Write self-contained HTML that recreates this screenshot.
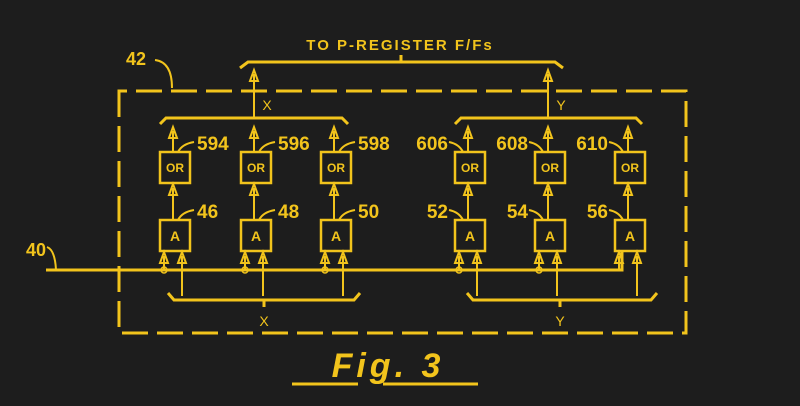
<!DOCTYPE html>
<html><head><meta charset="utf-8"><style>
html,body{margin:0;padding:0;background:#1d1d1d;}
svg{display:block}
text{font-family:"Liberation Sans",sans-serif;fill:#f2c41c;}
</style></head><body>
<svg width="800" height="406" viewBox="0 0 800 406" xmlns="http://www.w3.org/2000/svg">
<g stroke="#f2c41c" stroke-width="3" fill="none">
<path d="M119,91 L119,333 L686,333 L686,91 Z" stroke-dasharray="26,9"/>
<path d="M240,68 L248,62 L555,62 L563,68"/>
<line x1="401" y1="62" x2="401" y2="55"/>
<path d="M160,124 L166,118 L342,118 L348,124"/>
<path d="M455,124 L461,118 L636,118 L642,124"/>
<path d="M168,293 L174,300 L354,300 L360,293"/>
<path d="M467,293 L473,300 L651,300 L657,293"/>
<line x1="264" y1="300" x2="264" y2="307"/>
<line x1="560" y1="300" x2="560" y2="307"/>
<path d="M46,270 L622,270 L622,251"/>
<path d="M47,247 Q55,250 56,270" stroke-width="2"/>
</g>
<g id="cols" stroke="#f2c41c" fill="none"></g>
<text x="400" y="50" font-size="15" text-anchor="middle" letter-spacing="2" font-weight="bold">TO P-REGISTER F/Fs</text>
<text x="267" y="110" font-size="14" text-anchor="middle">X</text>
<text x="561" y="110" font-size="14" text-anchor="middle">Y</text>
<text x="264" y="326" font-size="14" text-anchor="middle">X</text>
<text x="560" y="326" font-size="14" text-anchor="middle">Y</text>
<text x="126" y="65" font-size="18" font-weight="bold">42</text>
<path d="M155,60 Q172,62 172,88" stroke="#f2c41c" stroke-width="2" fill="none"/>
<text x="26" y="256" font-size="18" font-weight="bold">40</text>
<text x="388" y="377" font-size="34" font-style="italic" text-anchor="middle" letter-spacing="4" font-weight="bold">Fig. 3</text>
<line x1="292" y1="384" x2="358" y2="384" stroke="#f2c41c" stroke-width="3"/>
<line x1="383" y1="384" x2="478" y2="384" stroke="#f2c41c" stroke-width="3"/>
<script>
var g=document.getElementById('cols');var ns="http://www.w3.org/2000/svg";
var cols=[[160,'594','46',1],[241,'596','48',1],[321,'598','50',1],[455,'606','52',0],[535,'608','54',0],[615,'610','56',0]];
var svg=document.querySelector('svg');
function el(t,a,p){var e=document.createElementNS(ns,t);for(var k in a)e.setAttribute(k,a[k]);(p||g).appendChild(e);return e;}
function arrow(x,y1,y2){el('line',{x1:x,y1:y1,x2:x,y2:y2+4,'stroke-width':2});
 el('path',{d:'M'+(x-4)+','+(y2+11)+' L'+x+','+y2+' L'+(x+4)+','+(y2+11)+' Z','stroke-width':2});}
arrow(254,118,70);arrow(548,118,70);
cols.forEach(function(c,i){
 var x=c[0],cx=x+13;
 el('rect',{x:x,y:152,width:30,height:31,'stroke-width':2.5});
 el('rect',{x:x,y:220,width:30,height:31,'stroke-width':2.5});
 arrow(cx,152,127);
 arrow(cx,220,184);
 arrow(x+4,270,252);
 arrow(x+22,296,252);
 if(i!=5) el('circle',{cx:x+4,cy:270,r:3,'stroke-width':1.5});
 var t=el('text',{x:x+15,y:172,'font-size':12,'text-anchor':'middle','font-weight':'bold'},svg);t.textContent='OR';
 t=el('text',{x:x+15,y:241,'font-size':14,'text-anchor':'middle','font-weight':'bold'},svg);t.textContent='A';
 if(c[3]){
  el('path',{d:'M'+(x+18)+',152 Q'+(x+22)+',144 '+(x+34)+',142','stroke-width':2});
  el('path',{d:'M'+(x+18)+',220 Q'+(x+22)+',212 '+(x+34)+',210','stroke-width':2});
  t=el('text',{x:x+37,y:150,'font-size':19,'font-weight':'bold'},svg);t.textContent=c[1];
  t=el('text',{x:x+37,y:218,'font-size':19,'font-weight':'bold'},svg);t.textContent=c[2];
 }else{
  el('path',{d:'M'+(x+8)+',152 Q'+(x+4)+',144 '+(x-6)+',142','stroke-width':2});
  el('path',{d:'M'+(x+8)+',220 Q'+(x+4)+',212 '+(x-6)+',210','stroke-width':2});
  t=el('text',{x:x-7,y:150,'font-size':19,'text-anchor':'end','font-weight':'bold'},svg);t.textContent=c[1];
  t=el('text',{x:x-7,y:218,'font-size':19,'text-anchor':'end','font-weight':'bold'},svg);t.textContent=c[2];
 }
});
</script>
</svg>
</body></html>
